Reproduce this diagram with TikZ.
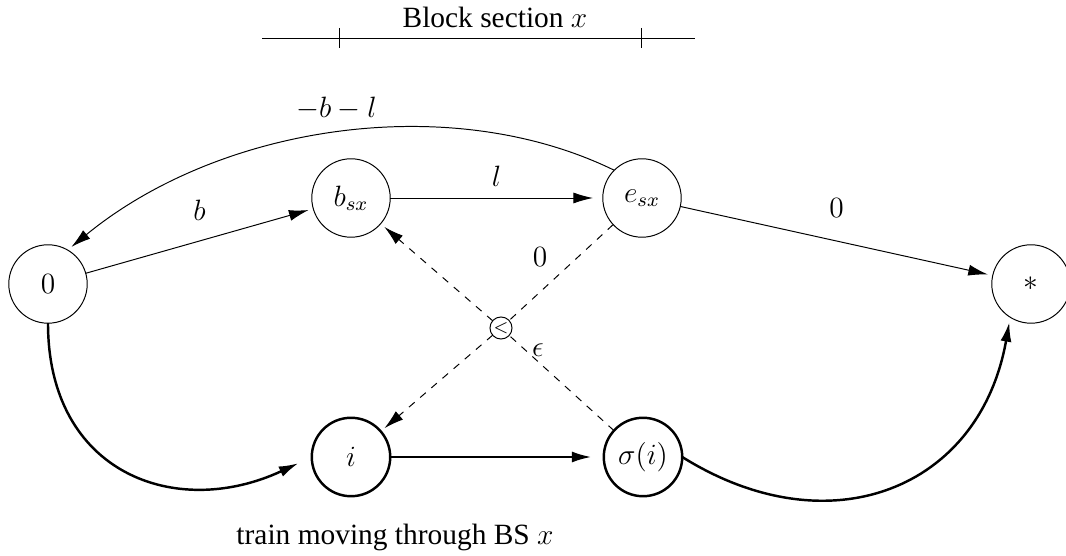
\documentclass[tikz,border=0pt]{standalone}
\usepackage{fontspec}
\setmainfont{Liberation Serif}
\usetikzlibrary{arrows.meta}

\tikzset{
	state/.style={draw,circle,inner sep=0,outer sep=0,minimum size=32pt},
	thickstate/.style={state,line width=1pt},
	tip/.style={-{Latex[length=8pt,width=4.5pt]},shorten >=2pt},
	cross/.style={draw,circle,inner sep=0,outer sep=0,minimum size=9pt}
}

\begin{document}
\begin{tikzpicture}[x=0.408pt,y=-0.408pt,font=\large]
	\useasboundingbox (0,0) rectangle (1066,556);
	% block section bar
	\coordinate (bl) at (262,38);
	\coordinate (br) at (695,38);
	\draw (bl) -- (br);
	\draw (339,28) -- (339,48);
	\draw (641,28) -- (641,48);
	\node (title) at (495,17) {Block section $x$};
	% nodes
	\node[state] (0) at (48,284) {$0$};
	\node[state] (b) at (351,198) {$b_{sx}$};
	\node[state] (e) at (642,198) {$e_{sx}$};
	\node[state] (s) at (1031,284) {$*$};
	\node[thickstate] (i) at (351,457) {$i$};
	\node[thickstate] (si) at (643,457) {$\sigma(i)$};
	\node[cross] (c) at (501,328) {\scriptsize$<$};
	% edges
	\draw[tip] (0) -- node[above=5pt] {$b$} (b);
	\draw[tip,shorten >=4pt] (b) -- node[above=1pt] {$l$} (e);
	\draw[tip] (e) -- node[above=6pt] {$0$} (s);
	\draw[tip] (e.135) .. controls (450,90) and (220,125) .. node[pos=0.5,above=2pt] {$-b-l$} (0.60);
	\draw[tip,dashed] (e) -- (c) -- (i);
	\draw[tip,dashed] (si) -- (c) -- (b);
	\node (zero) at (540,257) {$0$};
	\node (eps) at (538,350) {$\epsilon$};
	\draw[tip,line width=1pt,shorten >=6pt] (0) to[out=-90,in=205,looseness=1.3] (i.west);
	\draw[tip,line width=1pt,shorten >=5pt] (i) -- (si);
	\draw[tip,line width=1pt] (si.east) to[out=-32,in=-100,looseness=1.25] (s.-122);
	\node (caption) at (395,537) {train moving through BS $x$};
\end{tikzpicture}
\end{document}
